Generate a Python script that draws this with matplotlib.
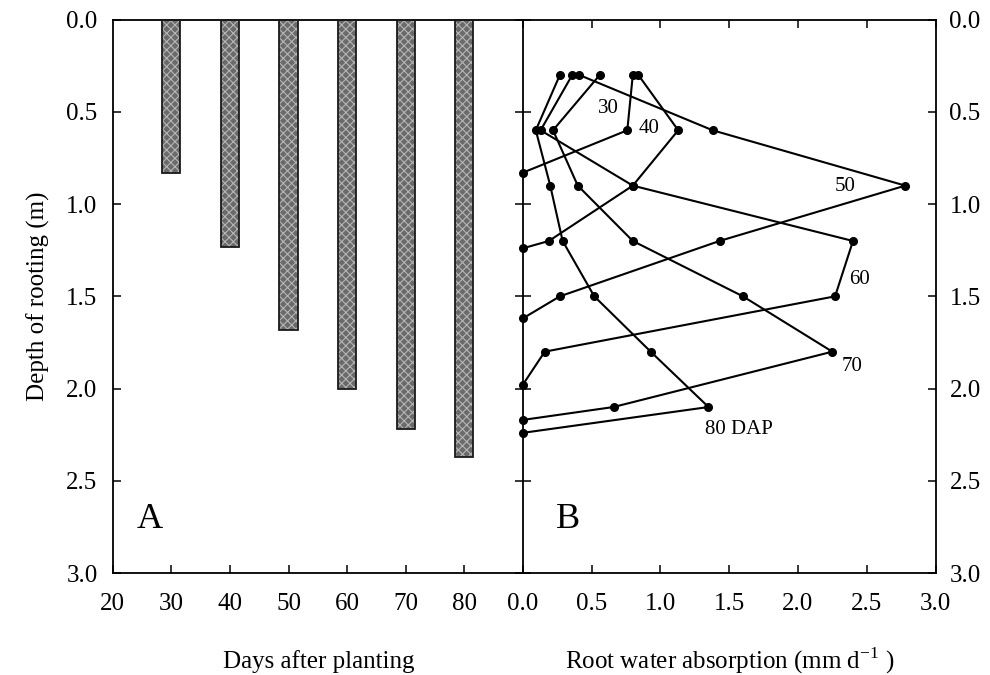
import matplotlib
matplotlib.use("Agg")
import matplotlib.pyplot as plt

plt.rcParams.update(
    {
        "font.family": ["Liberation Serif", "DejaVu Serif"],
        "font.size": 17,
        "axes.linewidth": 1.3,
        "hatch.linewidth": 0.8,
    }
)

# rooting depth by crop age
days = [30, 40, 50, 60, 70, 80]
root_depth = [0.83, 1.23, 1.68, 2.00, 2.22, 2.37]

# root water absorption profiles (mm/d) against depth (m)
rwa_30 = [0.80, 0.76, 0.0]
dep_30 = [0.3, 0.6, 0.83]
rwa_40 = [0.84, 1.13, 0.80, 0.19, 0.0]
dep_40 = [0.3, 0.6, 0.9, 1.2, 1.24]
rwa_50 = [0.41, 1.38, 2.78, 1.43, 0.27, 0.0]
dep_50 = [0.3, 0.6, 0.9, 1.2, 1.5, 1.62]
rwa_60 = [0.36, 0.13, 0.80, 2.40, 2.27, 0.16, 0.0]
dep_60 = [0.3, 0.6, 0.9, 1.2, 1.5, 1.8, 1.98]
rwa_70 = [0.56, 0.22, 0.40, 0.80, 1.60, 2.25, 0.66, 0.0]
dep_70 = [0.3, 0.6, 0.9, 1.2, 1.5, 1.8, 2.1, 2.17]
rwa_80 = [0.27, 0.095, 0.20, 0.29, 0.52, 0.93, 1.35, 0.0]
dep_80 = [0.3, 0.6, 0.9, 1.2, 1.5, 1.8, 2.1, 2.24]

curve_labels = ["30", "40", "50", "60", "70", "80 DAP"]
label_x = [0.62, 0.92, 2.34, 2.45, 2.39, 1.57]
label_y = [0.48, 0.59, 0.905, 1.41, 1.88, 2.22]

depth_ticks = [0.0, 0.5, 1.0, 1.5, 2.0, 2.5, 3.0]

fig = plt.figure(figsize=(9.9, 6.75), dpi=100)
ax_a = fig.add_axes([0.114, 0.151, 0.414, 0.820])
ax_b = fig.add_axes([0.528, 0.151, 0.417, 0.820])

# panel A: rooting depth bars
ax_a.bar(days, root_depth, width=3.1, bottom=0, color="#6a6a6a",
         edgecolor="#b5b5b5", linewidth=0, hatch="xxxx", zorder=2)
ax_a.bar(days, root_depth, width=3.1, bottom=0, fill=False,
         edgecolor="#1a1a1a", linewidth=1.3, zorder=3)
ax_a.set_xlim(20, 90)
ax_a.set_ylim(3.0, 0.0)
ax_a.set_xticks([20, 30, 40, 50, 60, 70, 80])
ax_a.set_yticks(depth_ticks)
ax_a.set_yticklabels([f"{t:.1f}" for t in depth_ticks])
ax_a.tick_params(direction="in", length=6, width=1.1, right=True, top=False,
                 labelsize=18)
ax_a.tick_params(axis="x", pad=14)
ax_a.tick_params(axis="y", pad=11)
ax_a.spines["right"].set_visible(False)
ax_a.set_ylabel("Depth of rooting (m)", fontsize=18, labelpad=12)
ax_a.text(26.3, 2.71, "A", fontsize=26, ha="center", va="center")

# panel B: absorption profiles
profiles = [(rwa_30, dep_30), (rwa_40, dep_40), (rwa_50, dep_50),
            (rwa_60, dep_60), (rwa_70, dep_70), (rwa_80, dep_80)]
for (xs, ys), lab, lx, ly in zip(profiles, curve_labels, label_x, label_y):
    ax_b.plot(xs, ys, color="black", linewidth=1.5, marker="o",
              markersize=5.5, clip_on=False, zorder=3)
    ax_b.text(lx, ly, lab, fontsize=15, ha="center", va="center", zorder=4)

ax_b.set_xlim(0, 3.0)
ax_b.set_ylim(3.0, 0.0)
ax_b.set_xticks(depth_ticks)
ax_b.set_xticklabels([f"{t:.1f}" for t in depth_ticks])
ax_b.set_yticks(depth_ticks)
ax_b.set_yticklabels([f"{t:.1f}" for t in depth_ticks])
ax_b.yaxis.tick_right()
ax_b.tick_params(direction="in", length=6, width=1.1, left=True, right=True,
                 top=True, labelsize=18)
ax_b.tick_params(axis="x", pad=14)
ax_b.tick_params(axis="y", pad=10)
ax_b.text(0.33, 2.71, "B", fontsize=26, ha="center", va="center")

# axis titles under each panel, on a shared baseline
fig.text(0.322, 0.010, "Days after planting", fontsize=18,
         ha="center", va="baseline")
fig.text(0.737, 0.010, "Root water absorption (mm d$^{\\mathregular{-1}}$ )",
         fontsize=18, ha="center", va="baseline")

fig.savefig("out.png", dpi=100, facecolor="white")
